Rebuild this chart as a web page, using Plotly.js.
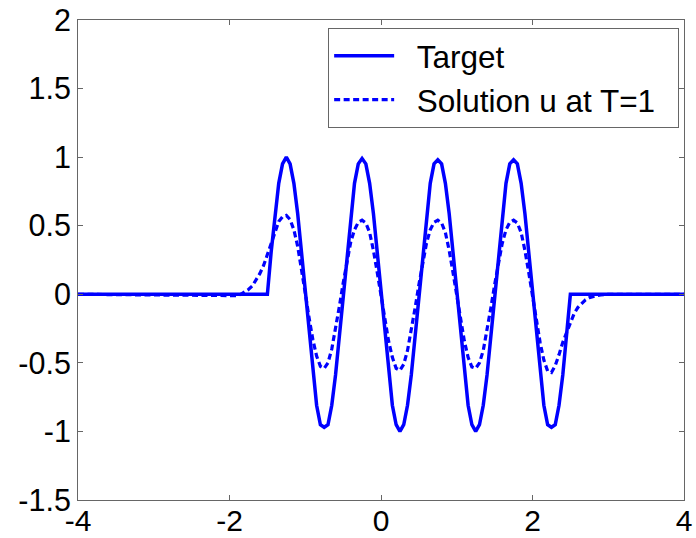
<!DOCTYPE html>
<html>
<head>
<meta charset="utf-8">
<script src="https://cdn.plot.ly/plotly-3.0.1.min.js"></script>
<style>html,body{margin:0;padding:0;background:#fff;}#chart{width:696px;height:538px;}</style>
</head>
<body>
<div id="chart"></div>
<script>
// x grid (shared by both series)
var xGrid = [-4.00,
 -2.00,-1.95,-1.90,-1.85,-1.80,-1.75,-1.70,-1.65,-1.60,-1.55,
 -1.50,-1.45,-1.40,-1.35,-1.30,-1.25,-1.20,-1.15,-1.10,-1.05,
 -1.00,-0.95,-0.90,-0.85,-0.80,-0.75,-0.70,-0.65,-0.60,-0.55,
 -0.50,-0.45,-0.40,-0.35,-0.30,-0.25,-0.20,-0.15,-0.10,-0.05,
  0.00, 0.05, 0.10, 0.15, 0.20, 0.25, 0.30, 0.35, 0.40, 0.45,
  0.50, 0.55, 0.60, 0.65, 0.70, 0.75, 0.80, 0.85, 0.90, 0.95,
  1.00, 1.05, 1.10, 1.15, 1.20, 1.25, 1.30, 1.35, 1.40, 1.45,
  1.50, 1.55, 1.60, 1.65, 1.70, 1.75, 1.80, 1.85, 1.90, 1.95,
  2.00, 2.05, 2.10, 2.15, 2.20, 2.25, 2.30, 2.35, 2.40, 2.45,
  2.50, 2.55, 2.60, 2.65, 2.70, 2.75, 2.80, 2.85, 2.90, 2.95,
  3.00,
  4.00];

// Target (solid)
var targetY = [0,
 0,0,0,0,0,0,0,0,0,0,
 0,0.309,0.588,0.809,0.951,1.0,0.951,0.809,0.588,0.309,
 0,-0.309,-0.588,-0.809,-0.951,-0.97,-0.951,-0.809,-0.588,-0.309,
 0,0.309,0.588,0.809,0.951,0.99,0.951,0.809,0.588,0.309,
 0,-0.309,-0.588,-0.809,-0.951,-1.0,-0.951,-0.809,-0.588,-0.309,
 0,0.309,0.588,0.809,0.951,0.98,0.951,0.809,0.588,0.309,
 0,-0.309,-0.588,-0.809,-0.951,-1.0,-0.951,-0.809,-0.588,-0.309,
 0,0.309,0.588,0.809,0.951,0.98,0.951,0.809,0.588,0.309,
 0,-0.309,-0.588,-0.809,-0.951,-0.97,-0.951,-0.809,-0.588,-0.309,
 0,0,0,0,0,0,0,0,0,0,
 0,
 0];

// Solution u at T=1 (dashed)
var solutionY = [0,
 -0.015,-0.015,-0.01,0.0,0.015,0.035,0.06,0.10,0.15,0.21,
 0.29,0.37,0.46,0.53,0.565,0.575,0.545,0.47,0.35,0.19,
 0.01,-0.17,-0.33,-0.45,-0.525,-0.54,-0.50,-0.40,-0.26,-0.09,
 0.08,0.24,0.38,0.47,0.525,0.54,0.52,0.45,0.32,0.16,
 -0.01,-0.18,-0.34,-0.46,-0.54,-0.555,-0.51,-0.41,-0.27,-0.10,
 0.07,0.23,0.37,0.47,0.525,0.54,0.52,0.45,0.32,0.16,
 -0.01,-0.18,-0.34,-0.46,-0.53,-0.54,-0.50,-0.41,-0.27,-0.10,
 0.07,0.23,0.37,0.47,0.525,0.54,0.52,0.45,0.32,0.16,
 -0.01,-0.18,-0.35,-0.48,-0.56,-0.57,-0.52,-0.44,-0.35,-0.28,
 -0.21,-0.14,-0.095,-0.065,-0.04,-0.025,-0.015,-0.01,-0.005,0,
 0,
 0];

var xTickVals = [-4,-2,0,2,4];
var xTickText = ['-4','-2','0','2','4'];
var yTickVals = [-1.5,-1,-0.5,0,0.5,1,1.5,2];
var yTickText = ['-1.5','-1','-0.5','0','0.5','1','1.5','2'];

var seriesNames = ['Target','Solution u at T=1'];
var pad = '\u00a0\u00a0';

var traces = [
  {x:xGrid, y:targetY, name:pad + seriesNames[0] + pad, type:'scatter', mode:'lines',
   line:{color:'#0000ff', width:3.5, dash:'solid'}},
  {x:xGrid, y:solutionY, name:pad + seriesNames[1] + pad, type:'scatter', mode:'lines',
   line:{color:'#0000ff', width:3.2, dash:'6px,3.5px'}}
];

var font = 'Liberation Sans, Arial, Helvetica, sans-serif';
var axisCommon = {
  showline:true, linecolor:'#666', linewidth:1, mirror:'ticks',
  ticks:'inside', ticklen:5, tickwidth:1, tickcolor:'#666',
  showgrid:false, zeroline:false, tickmode:'array'
};

var layout = {
  width:696, height:538,
  margin:{l:78, r:12, t:20, b:38, pad:0},
  paper_bgcolor:'#fff', plot_bgcolor:'#fff',
  showlegend:true,
  legend:{x:0.992, y:0.984, xanchor:'right', yanchor:'top',
    bgcolor:'#fff', bordercolor:'#666', borderwidth:1,
    font:{family:font, size:31.5, color:'#000'}, itemwidth:60, tracegroupgap:0},
  xaxis:Object.assign({}, axisCommon, {range:[-4,4], tickvals:xTickVals, ticktext:xTickText,
    ticklabelstandoff:-6, tickfont:{family:font, size:30, color:'#000'}}),
  yaxis:Object.assign({}, axisCommon, {range:[-1.5,2], tickvals:yTickVals, ticktext:yTickText,
    tickfont:{family:font, size:30.5, color:'#000'}})
};

Plotly.newPlot('chart', traces, layout, {staticPlot:true, displayModeBar:false});
</script>
</body>
</html>
